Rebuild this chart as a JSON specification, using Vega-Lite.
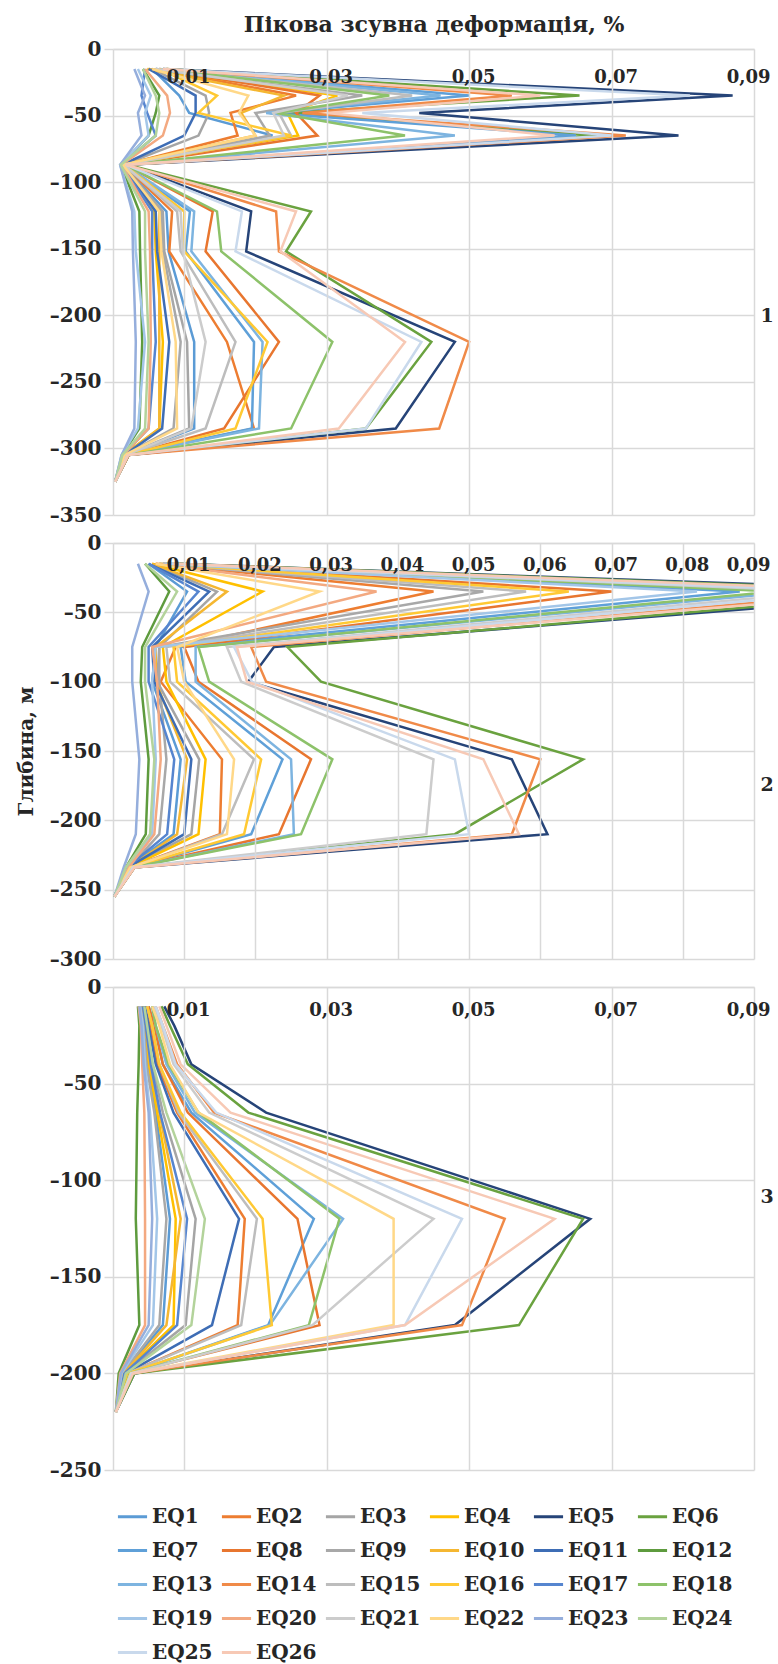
{
"$schema": "https://vega.github.io/schema/vega-lite/v6.json",
"background": "white",
"padding": {"left": 16, "top": 13, "right": 5, "bottom": 5},
"spacing": 28,
"bounds": "flush",
"datasets": {
"p1": [
{"s":"EQ1","d":-15,"v":0.0055},{"s":"EQ1","d":-35,"v":0.0093},{"s":"EQ1","d":-48,"v":0.0107},{"s":"EQ1","d":-65,"v":0.0224},{"s":"EQ1","d":-87,"v":0.0014},{"s":"EQ1","d":-122,"v":0.0075},{"s":"EQ1","d":-152,"v":0.0078},{"s":"EQ1","d":-220,"v":0.0114},{"s":"EQ1","d":-285,"v":0.0114},{"s":"EQ1","d":-305,"v":0.0017},{"s":"EQ1","d":-325,"v":0.0003},
{"s":"EQ2","d":-15,"v":0.006},{"s":"EQ2","d":-35,"v":0.0257},{"s":"EQ2","d":-48,"v":0.0165},{"s":"EQ2","d":-65,"v":0.0175},{"s":"EQ2","d":-87,"v":0.0015},{"s":"EQ2","d":-122,"v":0.0083},{"s":"EQ2","d":-152,"v":0.0079},{"s":"EQ2","d":-220,"v":0.016},{"s":"EQ2","d":-285,"v":0.0198},{"s":"EQ2","d":-305,"v":0.0018},{"s":"EQ2","d":-325,"v":0.0003},
{"s":"EQ3","d":-15,"v":0.0055},{"s":"EQ3","d":-35,"v":0.013},{"s":"EQ3","d":-48,"v":0.0135},{"s":"EQ3","d":-65,"v":0.012},{"s":"EQ3","d":-87,"v":0.0014},{"s":"EQ3","d":-122,"v":0.007},{"s":"EQ3","d":-152,"v":0.0072},{"s":"EQ3","d":-220,"v":0.0104},{"s":"EQ3","d":-285,"v":0.0107},{"s":"EQ3","d":-305,"v":0.0017},{"s":"EQ3","d":-325,"v":0.0003},
{"s":"EQ4","d":-15,"v":0.005},{"s":"EQ4","d":-35,"v":0.0315},{"s":"EQ4","d":-48,"v":0.0245},{"s":"EQ4","d":-65,"v":0.026},{"s":"EQ4","d":-87,"v":0.0013},{"s":"EQ4","d":-122,"v":0.0058},{"s":"EQ4","d":-152,"v":0.006},{"s":"EQ4","d":-220,"v":0.007},{"s":"EQ4","d":-285,"v":0.0065},{"s":"EQ4","d":-305,"v":0.0015},{"s":"EQ4","d":-325,"v":0.0003},
{"s":"EQ5","d":-15,"v":0.007},{"s":"EQ5","d":-35,"v":0.087},{"s":"EQ5","d":-48,"v":0.043},{"s":"EQ5","d":-65,"v":0.0794},{"s":"EQ5","d":-87,"v":0.002},{"s":"EQ5","d":-122,"v":0.0194},{"s":"EQ5","d":-152,"v":0.0187},{"s":"EQ5","d":-220,"v":0.048},{"s":"EQ5","d":-285,"v":0.0397},{"s":"EQ5","d":-305,"v":0.0022},{"s":"EQ5","d":-325,"v":0.0003},
{"s":"EQ6","d":-15,"v":0.0075},{"s":"EQ6","d":-35,"v":0.0655},{"s":"EQ6","d":-48,"v":0.024},{"s":"EQ6","d":-65,"v":0.068},{"s":"EQ6","d":-87,"v":0.002},{"s":"EQ6","d":-122,"v":0.0278},{"s":"EQ6","d":-152,"v":0.0243},{"s":"EQ6","d":-220,"v":0.0447},{"s":"EQ6","d":-285,"v":0.0355},{"s":"EQ6","d":-305,"v":0.0022},{"s":"EQ6","d":-325,"v":0.0003},
{"s":"EQ7","d":-15,"v":0.006},{"s":"EQ7","d":-35,"v":0.05},{"s":"EQ7","d":-48,"v":0.022},{"s":"EQ7","d":-65,"v":0.065},{"s":"EQ7","d":-87,"v":0.0015},{"s":"EQ7","d":-122,"v":0.0108},{"s":"EQ7","d":-152,"v":0.0102},{"s":"EQ7","d":-220,"v":0.0198},{"s":"EQ7","d":-285,"v":0.0195},{"s":"EQ7","d":-305,"v":0.0019},{"s":"EQ7","d":-325,"v":0.0003},
{"s":"EQ8","d":-15,"v":0.0065},{"s":"EQ8","d":-35,"v":0.029},{"s":"EQ8","d":-48,"v":0.0257},{"s":"EQ8","d":-65,"v":0.0287},{"s":"EQ8","d":-87,"v":0.0017},{"s":"EQ8","d":-122,"v":0.014},{"s":"EQ8","d":-152,"v":0.013},{"s":"EQ8","d":-220,"v":0.0233},{"s":"EQ8","d":-285,"v":0.0156},{"s":"EQ8","d":-305,"v":0.002},{"s":"EQ8","d":-325,"v":0.0003},
{"s":"EQ9","d":-15,"v":0.005},{"s":"EQ9","d":-35,"v":0.035},{"s":"EQ9","d":-48,"v":0.02},{"s":"EQ9","d":-65,"v":0.022},{"s":"EQ9","d":-87,"v":0.0013},{"s":"EQ9","d":-122,"v":0.0068},{"s":"EQ9","d":-152,"v":0.007},{"s":"EQ9","d":-220,"v":0.0095},{"s":"EQ9","d":-285,"v":0.0085},{"s":"EQ9","d":-305,"v":0.0016},{"s":"EQ9","d":-325,"v":0.0003},
{"s":"EQ10","d":-15,"v":0.0048},{"s":"EQ10","d":-35,"v":0.024},{"s":"EQ10","d":-48,"v":0.018},{"s":"EQ10","d":-65,"v":0.02},{"s":"EQ10","d":-87,"v":0.0012},{"s":"EQ10","d":-122,"v":0.0065},{"s":"EQ10","d":-152,"v":0.0065},{"s":"EQ10","d":-220,"v":0.0065},{"s":"EQ10","d":-285,"v":0.0065},{"s":"EQ10","d":-305,"v":0.0015},{"s":"EQ10","d":-325,"v":0.0003},
{"s":"EQ11","d":-15,"v":0.005},{"s":"EQ11","d":-35,"v":0.0116},{"s":"EQ11","d":-48,"v":0.0116},{"s":"EQ11","d":-65,"v":0.01},{"s":"EQ11","d":-87,"v":0.0013},{"s":"EQ11","d":-122,"v":0.006},{"s":"EQ11","d":-152,"v":0.0062},{"s":"EQ11","d":-220,"v":0.0079},{"s":"EQ11","d":-285,"v":0.0069},{"s":"EQ11","d":-305,"v":0.0016},{"s":"EQ11","d":-325,"v":0.0003},
{"s":"EQ12","d":-15,"v":0.0042},{"s":"EQ12","d":-35,"v":0.0065},{"s":"EQ12","d":-48,"v":0.006},{"s":"EQ12","d":-65,"v":0.005},{"s":"EQ12","d":-87,"v":0.0011},{"s":"EQ12","d":-122,"v":0.0037},{"s":"EQ12","d":-152,"v":0.0038},{"s":"EQ12","d":-220,"v":0.0041},{"s":"EQ12","d":-285,"v":0.0037},{"s":"EQ12","d":-305,"v":0.0013},{"s":"EQ12","d":-325,"v":0.0003},
{"s":"EQ13","d":-15,"v":0.0065},{"s":"EQ13","d":-35,"v":0.046},{"s":"EQ13","d":-48,"v":0.0215},{"s":"EQ13","d":-65,"v":0.048},{"s":"EQ13","d":-87,"v":0.0016},{"s":"EQ13","d":-122,"v":0.0114},{"s":"EQ13","d":-152,"v":0.011},{"s":"EQ13","d":-220,"v":0.021},{"s":"EQ13","d":-285,"v":0.0205},{"s":"EQ13","d":-305,"v":0.0019},{"s":"EQ13","d":-325,"v":0.0003},
{"s":"EQ14","d":-15,"v":0.0075},{"s":"EQ14","d":-35,"v":0.056},{"s":"EQ14","d":-48,"v":0.0266},{"s":"EQ14","d":-65,"v":0.072},{"s":"EQ14","d":-87,"v":0.002},{"s":"EQ14","d":-122,"v":0.0229},{"s":"EQ14","d":-152,"v":0.0233},{"s":"EQ14","d":-220,"v":0.05},{"s":"EQ14","d":-285,"v":0.0458},{"s":"EQ14","d":-305,"v":0.0022},{"s":"EQ14","d":-325,"v":0.0003},
{"s":"EQ15","d":-15,"v":0.006},{"s":"EQ15","d":-35,"v":0.042},{"s":"EQ15","d":-48,"v":0.0233},{"s":"EQ15","d":-65,"v":0.025},{"s":"EQ15","d":-87,"v":0.0015},{"s":"EQ15","d":-122,"v":0.009},{"s":"EQ15","d":-152,"v":0.0095},{"s":"EQ15","d":-220,"v":0.0172},{"s":"EQ15","d":-285,"v":0.013},{"s":"EQ15","d":-305,"v":0.0018},{"s":"EQ15","d":-325,"v":0.0003},
{"s":"EQ16","d":-15,"v":0.0065},{"s":"EQ16","d":-35,"v":0.0146},{"s":"EQ16","d":-48,"v":0.012},{"s":"EQ16","d":-65,"v":0.025},{"s":"EQ16","d":-87,"v":0.0016},{"s":"EQ16","d":-122,"v":0.01},{"s":"EQ16","d":-152,"v":0.01},{"s":"EQ16","d":-220,"v":0.0217},{"s":"EQ16","d":-285,"v":0.0172},{"s":"EQ16","d":-305,"v":0.0019},{"s":"EQ16","d":-325,"v":0.0003},
{"s":"EQ17","d":-15,"v":0.0045},{"s":"EQ17","d":-35,"v":0.004},{"s":"EQ17","d":-48,"v":0.0048},{"s":"EQ17","d":-65,"v":0.006},{"s":"EQ17","d":-87,"v":0.0012},{"s":"EQ17","d":-122,"v":0.0055},{"s":"EQ17","d":-152,"v":0.0055},{"s":"EQ17","d":-220,"v":0.006},{"s":"EQ17","d":-285,"v":0.005},{"s":"EQ17","d":-305,"v":0.0014},{"s":"EQ17","d":-325,"v":0.0003},
{"s":"EQ18","d":-15,"v":0.007},{"s":"EQ18","d":-35,"v":0.0388},{"s":"EQ18","d":-48,"v":0.023},{"s":"EQ18","d":-65,"v":0.041},{"s":"EQ18","d":-87,"v":0.0017},{"s":"EQ18","d":-122,"v":0.0146},{"s":"EQ18","d":-152,"v":0.0152},{"s":"EQ18","d":-220,"v":0.0308},{"s":"EQ18","d":-285,"v":0.025},{"s":"EQ18","d":-305,"v":0.002},{"s":"EQ18","d":-325,"v":0.0003},
{"s":"EQ19","d":-15,"v":0.0035},{"s":"EQ19","d":-35,"v":0.0053},{"s":"EQ19","d":-48,"v":0.0045},{"s":"EQ19","d":-65,"v":0.005},{"s":"EQ19","d":-87,"v":0.001},{"s":"EQ19","d":-122,"v":0.003},{"s":"EQ19","d":-152,"v":0.0032},{"s":"EQ19","d":-220,"v":0.0045},{"s":"EQ19","d":-285,"v":0.0035},{"s":"EQ19","d":-305,"v":0.0012},{"s":"EQ19","d":-325,"v":0.0003},
{"s":"EQ20","d":-15,"v":0.0045},{"s":"EQ20","d":-35,"v":0.0076},{"s":"EQ20","d":-48,"v":0.008},{"s":"EQ20","d":-65,"v":0.007},{"s":"EQ20","d":-87,"v":0.0012},{"s":"EQ20","d":-122,"v":0.005},{"s":"EQ20","d":-152,"v":0.0052},{"s":"EQ20","d":-220,"v":0.0053},{"s":"EQ20","d":-285,"v":0.005},{"s":"EQ20","d":-305,"v":0.0014},{"s":"EQ20","d":-325,"v":0.0003},
{"s":"EQ21","d":-15,"v":0.006},{"s":"EQ21","d":-35,"v":0.033},{"s":"EQ21","d":-48,"v":0.0225},{"s":"EQ21","d":-65,"v":0.024},{"s":"EQ21","d":-87,"v":0.0015},{"s":"EQ21","d":-122,"v":0.0095},{"s":"EQ21","d":-152,"v":0.0098},{"s":"EQ21","d":-220,"v":0.013},{"s":"EQ21","d":-285,"v":0.011},{"s":"EQ21","d":-305,"v":0.0018},{"s":"EQ21","d":-325,"v":0.0003},
{"s":"EQ22","d":-15,"v":0.0055},{"s":"EQ22","d":-35,"v":0.019},{"s":"EQ22","d":-48,"v":0.0177},{"s":"EQ22","d":-65,"v":0.02},{"s":"EQ22","d":-87,"v":0.0014},{"s":"EQ22","d":-122,"v":0.0065},{"s":"EQ22","d":-152,"v":0.0068},{"s":"EQ22","d":-220,"v":0.0088},{"s":"EQ22","d":-285,"v":0.009},{"s":"EQ22","d":-305,"v":0.0016},{"s":"EQ22","d":-325,"v":0.0003},
{"s":"EQ23","d":-15,"v":0.003},{"s":"EQ23","d":-35,"v":0.0045},{"s":"EQ23","d":-48,"v":0.0035},{"s":"EQ23","d":-65,"v":0.004},{"s":"EQ23","d":-87,"v":0.001},{"s":"EQ23","d":-122,"v":0.0027},{"s":"EQ23","d":-152,"v":0.0028},{"s":"EQ23","d":-220,"v":0.0032},{"s":"EQ23","d":-285,"v":0.003},{"s":"EQ23","d":-305,"v":0.0012},{"s":"EQ23","d":-325,"v":0.0003},
{"s":"EQ24","d":-15,"v":0.0042},{"s":"EQ24","d":-35,"v":0.006},{"s":"EQ24","d":-48,"v":0.0065},{"s":"EQ24","d":-65,"v":0.006},{"s":"EQ24","d":-87,"v":0.0011},{"s":"EQ24","d":-122,"v":0.0045},{"s":"EQ24","d":-152,"v":0.0045},{"s":"EQ24","d":-220,"v":0.005},{"s":"EQ24","d":-285,"v":0.0045},{"s":"EQ24","d":-305,"v":0.0013},{"s":"EQ24","d":-325,"v":0.0003},
{"s":"EQ25","d":-15,"v":0.007},{"s":"EQ25","d":-35,"v":0.081},{"s":"EQ25","d":-48,"v":0.035},{"s":"EQ25","d":-65,"v":0.07},{"s":"EQ25","d":-87,"v":0.0018},{"s":"EQ25","d":-122,"v":0.0181},{"s":"EQ25","d":-152,"v":0.0172},{"s":"EQ25","d":-220,"v":0.0433},{"s":"EQ25","d":-285,"v":0.0355},{"s":"EQ25","d":-305,"v":0.0021},{"s":"EQ25","d":-325,"v":0.0003},
{"s":"EQ26","d":-15,"v":0.007},{"s":"EQ26","d":-35,"v":0.06},{"s":"EQ26","d":-48,"v":0.03},{"s":"EQ26","d":-65,"v":0.062},{"s":"EQ26","d":-87,"v":0.0018},{"s":"EQ26","d":-122,"v":0.0257},{"s":"EQ26","d":-152,"v":0.0235},{"s":"EQ26","d":-220,"v":0.041},{"s":"EQ26","d":-285,"v":0.0317},{"s":"EQ26","d":-305,"v":0.0021},{"s":"EQ26","d":-325,"v":0.0003}
],
"p2": [
{"s":"EQ1","d":-15,"v":0.005},{"s":"EQ1","d":-35,"v":0.0104},{"s":"EQ1","d":-75,"v":0.006},{"s":"EQ1","d":-100,"v":0.0055},{"s":"EQ1","d":-156,"v":0.0095},{"s":"EQ1","d":-210,"v":0.0085},{"s":"EQ1","d":-234,"v":0.002},{"s":"EQ1","d":-255,"v":0.0002},
{"s":"EQ2","d":-15,"v":0.006},{"s":"EQ2","d":-35,"v":0.045},{"s":"EQ2","d":-75,"v":0.0088},{"s":"EQ2","d":-100,"v":0.0067},{"s":"EQ2","d":-156,"v":0.0153},{"s":"EQ2","d":-210,"v":0.015},{"s":"EQ2","d":-234,"v":0.0024},{"s":"EQ2","d":-255,"v":0.0002},
{"s":"EQ3","d":-15,"v":0.0055},{"s":"EQ3","d":-35,"v":0.0146},{"s":"EQ3","d":-75,"v":0.0065},{"s":"EQ3","d":-100,"v":0.0062},{"s":"EQ3","d":-156,"v":0.0121},{"s":"EQ3","d":-210,"v":0.011},{"s":"EQ3","d":-234,"v":0.0022},{"s":"EQ3","d":-255,"v":0.0002},
{"s":"EQ4","d":-15,"v":0.0055},{"s":"EQ4","d":-35,"v":0.021},{"s":"EQ4","d":-75,"v":0.007},{"s":"EQ4","d":-100,"v":0.0075},{"s":"EQ4","d":-156,"v":0.013},{"s":"EQ4","d":-210,"v":0.012},{"s":"EQ4","d":-234,"v":0.0023},{"s":"EQ4","d":-255,"v":0.0002},
{"s":"EQ5","d":-15,"v":0.009},{"s":"EQ5","d":-35,"v":0.12},{"s":"EQ5","d":-75,"v":0.0226},{"s":"EQ5","d":-100,"v":0.019},{"s":"EQ5","d":-156,"v":0.056},{"s":"EQ5","d":-210,"v":0.061},{"s":"EQ5","d":-234,"v":0.003},{"s":"EQ5","d":-255,"v":0.0002},
{"s":"EQ6","d":-15,"v":0.009},{"s":"EQ6","d":-35,"v":0.115},{"s":"EQ6","d":-75,"v":0.0245},{"s":"EQ6","d":-100,"v":0.0292},{"s":"EQ6","d":-156,"v":0.066},{"s":"EQ6","d":-210,"v":0.048},{"s":"EQ6","d":-234,"v":0.003},{"s":"EQ6","d":-255,"v":0.0002},
{"s":"EQ7","d":-15,"v":0.007},{"s":"EQ7","d":-35,"v":0.088},{"s":"EQ7","d":-75,"v":0.0095},{"s":"EQ7","d":-100,"v":0.0102},{"s":"EQ7","d":-156,"v":0.0238},{"s":"EQ7","d":-210,"v":0.0194},{"s":"EQ7","d":-234,"v":0.0026},{"s":"EQ7","d":-255,"v":0.0002},
{"s":"EQ8","d":-15,"v":0.007},{"s":"EQ8","d":-35,"v":0.07},{"s":"EQ8","d":-75,"v":0.01},{"s":"EQ8","d":-100,"v":0.012},{"s":"EQ8","d":-156,"v":0.0278},{"s":"EQ8","d":-210,"v":0.0233},{"s":"EQ8","d":-234,"v":0.0026},{"s":"EQ8","d":-255,"v":0.0002},
{"s":"EQ9","d":-15,"v":0.0065},{"s":"EQ9","d":-35,"v":0.052},{"s":"EQ9","d":-75,"v":0.0065},{"s":"EQ9","d":-100,"v":0.0065},{"s":"EQ9","d":-156,"v":0.0075},{"s":"EQ9","d":-210,"v":0.0065},{"s":"EQ9","d":-234,"v":0.0023},{"s":"EQ9","d":-255,"v":0.0002},
{"s":"EQ10","d":-15,"v":0.0055},{"s":"EQ10","d":-35,"v":0.016},{"s":"EQ10","d":-75,"v":0.006},{"s":"EQ10","d":-100,"v":0.006},{"s":"EQ10","d":-156,"v":0.0104},{"s":"EQ10","d":-210,"v":0.009},{"s":"EQ10","d":-234,"v":0.0022},{"s":"EQ10","d":-255,"v":0.0002},
{"s":"EQ11","d":-15,"v":0.005},{"s":"EQ11","d":-35,"v":0.0135},{"s":"EQ11","d":-75,"v":0.0055},{"s":"EQ11","d":-100,"v":0.0058},{"s":"EQ11","d":-156,"v":0.011},{"s":"EQ11","d":-210,"v":0.01},{"s":"EQ11","d":-234,"v":0.0021},{"s":"EQ11","d":-255,"v":0.0002},
{"s":"EQ12","d":-15,"v":0.0045},{"s":"EQ12","d":-35,"v":0.0079},{"s":"EQ12","d":-75,"v":0.0041},{"s":"EQ12","d":-100,"v":0.0039},{"s":"EQ12","d":-156,"v":0.005},{"s":"EQ12","d":-210,"v":0.0046},{"s":"EQ12","d":-234,"v":0.0018},{"s":"EQ12","d":-255,"v":0.0002},
{"s":"EQ13","d":-15,"v":0.0075},{"s":"EQ13","d":-35,"v":0.096},{"s":"EQ13","d":-75,"v":0.0116},{"s":"EQ13","d":-100,"v":0.0116},{"s":"EQ13","d":-156,"v":0.025},{"s":"EQ13","d":-210,"v":0.0254},{"s":"EQ13","d":-234,"v":0.0027},{"s":"EQ13","d":-255,"v":0.0002},
{"s":"EQ14","d":-15,"v":0.0085},{"s":"EQ14","d":-35,"v":0.108},{"s":"EQ14","d":-75,"v":0.0194},{"s":"EQ14","d":-100,"v":0.0215},{"s":"EQ14","d":-156,"v":0.06},{"s":"EQ14","d":-210,"v":0.056},{"s":"EQ14","d":-234,"v":0.003},{"s":"EQ14","d":-255,"v":0.0002},
{"s":"EQ15","d":-15,"v":0.0065},{"s":"EQ15","d":-35,"v":0.058},{"s":"EQ15","d":-75,"v":0.0075},{"s":"EQ15","d":-100,"v":0.008},{"s":"EQ15","d":-156,"v":0.0198},{"s":"EQ15","d":-210,"v":0.0153},{"s":"EQ15","d":-234,"v":0.0025},{"s":"EQ15","d":-255,"v":0.0002},
{"s":"EQ16","d":-15,"v":0.0065},{"s":"EQ16","d":-35,"v":0.064},{"s":"EQ16","d":-75,"v":0.0085},{"s":"EQ16","d":-100,"v":0.009},{"s":"EQ16","d":-156,"v":0.0208},{"s":"EQ16","d":-210,"v":0.0184},{"s":"EQ16","d":-234,"v":0.0025},{"s":"EQ16","d":-255,"v":0.0002},
{"s":"EQ17","d":-15,"v":0.005},{"s":"EQ17","d":-35,"v":0.012},{"s":"EQ17","d":-75,"v":0.005},{"s":"EQ17","d":-100,"v":0.005},{"s":"EQ17","d":-156,"v":0.0086},{"s":"EQ17","d":-210,"v":0.0076},{"s":"EQ17","d":-234,"v":0.002},{"s":"EQ17","d":-255,"v":0.0002},
{"s":"EQ18","d":-15,"v":0.0075},{"s":"EQ18","d":-35,"v":0.093},{"s":"EQ18","d":-75,"v":0.012},{"s":"EQ18","d":-100,"v":0.0135},{"s":"EQ18","d":-156,"v":0.0308},{"s":"EQ18","d":-210,"v":0.0264},{"s":"EQ18","d":-234,"v":0.0027},{"s":"EQ18","d":-255,"v":0.0002},
{"s":"EQ19","d":-15,"v":0.007},{"s":"EQ19","d":-35,"v":0.082},{"s":"EQ19","d":-75,"v":0.006},{"s":"EQ19","d":-100,"v":0.0055},{"s":"EQ19","d":-156,"v":0.006},{"s":"EQ19","d":-210,"v":0.0055},{"s":"EQ19","d":-234,"v":0.0022},{"s":"EQ19","d":-255,"v":0.0002},
{"s":"EQ20","d":-15,"v":0.006},{"s":"EQ20","d":-35,"v":0.037},{"s":"EQ20","d":-75,"v":0.0055},{"s":"EQ20","d":-100,"v":0.0062},{"s":"EQ20","d":-156,"v":0.0067},{"s":"EQ20","d":-210,"v":0.0058},{"s":"EQ20","d":-234,"v":0.0022},{"s":"EQ20","d":-255,"v":0.0002},
{"s":"EQ21","d":-15,"v":0.008},{"s":"EQ21","d":-35,"v":0.1},{"s":"EQ21","d":-75,"v":0.016},{"s":"EQ21","d":-100,"v":0.018},{"s":"EQ21","d":-156,"v":0.045},{"s":"EQ21","d":-210,"v":0.044},{"s":"EQ21","d":-234,"v":0.0028},{"s":"EQ21","d":-255,"v":0.0002},
{"s":"EQ22","d":-15,"v":0.006},{"s":"EQ22","d":-35,"v":0.029},{"s":"EQ22","d":-75,"v":0.009},{"s":"EQ22","d":-100,"v":0.01},{"s":"EQ22","d":-156,"v":0.017},{"s":"EQ22","d":-210,"v":0.016},{"s":"EQ22","d":-234,"v":0.0024},{"s":"EQ22","d":-255,"v":0.0002},
{"s":"EQ23","d":-15,"v":0.0035},{"s":"EQ23","d":-35,"v":0.005},{"s":"EQ23","d":-75,"v":0.0027},{"s":"EQ23","d":-100,"v":0.0027},{"s":"EQ23","d":-156,"v":0.0037},{"s":"EQ23","d":-210,"v":0.0032},{"s":"EQ23","d":-234,"v":0.0015},{"s":"EQ23","d":-255,"v":0.0002},
{"s":"EQ24","d":-15,"v":0.0045},{"s":"EQ24","d":-35,"v":0.009},{"s":"EQ24","d":-75,"v":0.0045},{"s":"EQ24","d":-100,"v":0.0045},{"s":"EQ24","d":-156,"v":0.0058},{"s":"EQ24","d":-210,"v":0.0052},{"s":"EQ24","d":-234,"v":0.0018},{"s":"EQ24","d":-255,"v":0.0002},
{"s":"EQ25","d":-15,"v":0.008},{"s":"EQ25","d":-35,"v":0.104},{"s":"EQ25","d":-75,"v":0.017},{"s":"EQ25","d":-100,"v":0.0195},{"s":"EQ25","d":-156,"v":0.048},{"s":"EQ25","d":-210,"v":0.05},{"s":"EQ25","d":-234,"v":0.0028},{"s":"EQ25","d":-255,"v":0.0002},
{"s":"EQ26","d":-15,"v":0.0085},{"s":"EQ26","d":-35,"v":0.112},{"s":"EQ26","d":-75,"v":0.0174},{"s":"EQ26","d":-100,"v":0.0188},{"s":"EQ26","d":-156,"v":0.052},{"s":"EQ26","d":-210,"v":0.057},{"s":"EQ26","d":-234,"v":0.003},{"s":"EQ26","d":-255,"v":0.0002}
],
"p3": [
{"s":"EQ1","d":-10,"v":0.004},{"s":"EQ1","d":-20,"v":0.0044},{"s":"EQ1","d":-40,"v":0.0049},{"s":"EQ1","d":-65,"v":0.006},{"s":"EQ1","d":-120,"v":0.008},{"s":"EQ1","d":-175,"v":0.007},{"s":"EQ1","d":-200,"v":0.0014},{"s":"EQ1","d":-220,"v":0.0004},
{"s":"EQ2","d":-10,"v":0.0046},{"s":"EQ2","d":-20,"v":0.0052},{"s":"EQ2","d":-40,"v":0.0062},{"s":"EQ2","d":-65,"v":0.009},{"s":"EQ2","d":-120,"v":0.0185},{"s":"EQ2","d":-175,"v":0.0175},{"s":"EQ2","d":-200,"v":0.002},{"s":"EQ2","d":-220,"v":0.0004},
{"s":"EQ3","d":-10,"v":0.0043},{"s":"EQ3","d":-20,"v":0.0047},{"s":"EQ3","d":-40,"v":0.0055},{"s":"EQ3","d":-65,"v":0.007},{"s":"EQ3","d":-120,"v":0.0116},{"s":"EQ3","d":-175,"v":0.0102},{"s":"EQ3","d":-200,"v":0.0016},{"s":"EQ3","d":-220,"v":0.0004},
{"s":"EQ4","d":-10,"v":0.0041},{"s":"EQ4","d":-20,"v":0.0045},{"s":"EQ4","d":-40,"v":0.005},{"s":"EQ4","d":-65,"v":0.0062},{"s":"EQ4","d":-120,"v":0.0088},{"s":"EQ4","d":-175,"v":0.0085},{"s":"EQ4","d":-200,"v":0.0015},{"s":"EQ4","d":-220,"v":0.0004},
{"s":"EQ5","d":-10,"v":0.0072},{"s":"EQ5","d":-20,"v":0.0086},{"s":"EQ5","d":-40,"v":0.011},{"s":"EQ5","d":-65,"v":0.0215},{"s":"EQ5","d":-120,"v":0.067},{"s":"EQ5","d":-175,"v":0.048},{"s":"EQ5","d":-200,"v":0.003},{"s":"EQ5","d":-220,"v":0.0004},
{"s":"EQ6","d":-10,"v":0.0068},{"s":"EQ6","d":-20,"v":0.008},{"s":"EQ6","d":-40,"v":0.0105},{"s":"EQ6","d":-65,"v":0.019},{"s":"EQ6","d":-120,"v":0.066},{"s":"EQ6","d":-175,"v":0.057},{"s":"EQ6","d":-200,"v":0.003},{"s":"EQ6","d":-220,"v":0.0004},
{"s":"EQ7","d":-10,"v":0.005},{"s":"EQ7","d":-20,"v":0.0058},{"s":"EQ7","d":-40,"v":0.007},{"s":"EQ7","d":-65,"v":0.011},{"s":"EQ7","d":-120,"v":0.0282},{"s":"EQ7","d":-175,"v":0.0218},{"s":"EQ7","d":-200,"v":0.0022},{"s":"EQ7","d":-220,"v":0.0004},
{"s":"EQ8","d":-10,"v":0.005},{"s":"EQ8","d":-20,"v":0.0058},{"s":"EQ8","d":-40,"v":0.007},{"s":"EQ8","d":-65,"v":0.0105},{"s":"EQ8","d":-120,"v":0.0259},{"s":"EQ8","d":-175,"v":0.029},{"s":"EQ8","d":-200,"v":0.0022},{"s":"EQ8","d":-220,"v":0.0004},
{"s":"EQ9","d":-10,"v":0.0039},{"s":"EQ9","d":-20,"v":0.0043},{"s":"EQ9","d":-40,"v":0.0047},{"s":"EQ9","d":-65,"v":0.0058},{"s":"EQ9","d":-120,"v":0.0075},{"s":"EQ9","d":-175,"v":0.0065},{"s":"EQ9","d":-200,"v":0.0013},{"s":"EQ9","d":-220,"v":0.0004},
{"s":"EQ10","d":-10,"v":0.0042},{"s":"EQ10","d":-20,"v":0.0046},{"s":"EQ10","d":-40,"v":0.0052},{"s":"EQ10","d":-65,"v":0.0065},{"s":"EQ10","d":-120,"v":0.0095},{"s":"EQ10","d":-175,"v":0.0075},{"s":"EQ10","d":-200,"v":0.0015},{"s":"EQ10","d":-220,"v":0.0004},
{"s":"EQ11","d":-10,"v":0.0045},{"s":"EQ11","d":-20,"v":0.005},{"s":"EQ11","d":-40,"v":0.006},{"s":"EQ11","d":-65,"v":0.0085},{"s":"EQ11","d":-120,"v":0.0177},{"s":"EQ11","d":-175,"v":0.0139},{"s":"EQ11","d":-200,"v":0.0018},{"s":"EQ11","d":-220,"v":0.0004},
{"s":"EQ12","d":-10,"v":0.0035},{"s":"EQ12","d":-20,"v":0.0037},{"s":"EQ12","d":-40,"v":0.0036},{"s":"EQ12","d":-65,"v":0.0034},{"s":"EQ12","d":-120,"v":0.0032},{"s":"EQ12","d":-175,"v":0.0037},{"s":"EQ12","d":-200,"v":0.0008},{"s":"EQ12","d":-220,"v":0.0004},
{"s":"EQ13","d":-10,"v":0.0055},{"s":"EQ13","d":-20,"v":0.006},{"s":"EQ13","d":-40,"v":0.0075},{"s":"EQ13","d":-65,"v":0.0115},{"s":"EQ13","d":-120,"v":0.0323},{"s":"EQ13","d":-175,"v":0.022},{"s":"EQ13","d":-200,"v":0.0024},{"s":"EQ13","d":-220,"v":0.0004},
{"s":"EQ14","d":-10,"v":0.006},{"s":"EQ14","d":-20,"v":0.007},{"s":"EQ14","d":-40,"v":0.009},{"s":"EQ14","d":-65,"v":0.0142},{"s":"EQ14","d":-120,"v":0.055},{"s":"EQ14","d":-175,"v":0.049},{"s":"EQ14","d":-200,"v":0.0027},{"s":"EQ14","d":-220,"v":0.0004},
{"s":"EQ15","d":-10,"v":0.0048},{"s":"EQ15","d":-20,"v":0.0055},{"s":"EQ15","d":-40,"v":0.0065},{"s":"EQ15","d":-65,"v":0.0092},{"s":"EQ15","d":-120,"v":0.0202},{"s":"EQ15","d":-175,"v":0.018},{"s":"EQ15","d":-200,"v":0.002},{"s":"EQ15","d":-220,"v":0.0004},
{"s":"EQ16","d":-10,"v":0.0048},{"s":"EQ16","d":-20,"v":0.0055},{"s":"EQ16","d":-40,"v":0.0065},{"s":"EQ16","d":-65,"v":0.0095},{"s":"EQ16","d":-120,"v":0.021},{"s":"EQ16","d":-175,"v":0.0223},{"s":"EQ16","d":-200,"v":0.002},{"s":"EQ16","d":-220,"v":0.0004},
{"s":"EQ17","d":-10,"v":0.0042},{"s":"EQ17","d":-20,"v":0.0046},{"s":"EQ17","d":-40,"v":0.0053},{"s":"EQ17","d":-65,"v":0.0066},{"s":"EQ17","d":-120,"v":0.0104},{"s":"EQ17","d":-175,"v":0.009},{"s":"EQ17","d":-200,"v":0.0016},{"s":"EQ17","d":-220,"v":0.0004},
{"s":"EQ18","d":-10,"v":0.0055},{"s":"EQ18","d":-20,"v":0.006},{"s":"EQ18","d":-40,"v":0.0078},{"s":"EQ18","d":-65,"v":0.012},{"s":"EQ18","d":-120,"v":0.0318},{"s":"EQ18","d":-175,"v":0.0275},{"s":"EQ18","d":-200,"v":0.0024},{"s":"EQ18","d":-220,"v":0.0004},
{"s":"EQ19","d":-10,"v":0.0038},{"s":"EQ19","d":-20,"v":0.0042},{"s":"EQ19","d":-40,"v":0.0045},{"s":"EQ19","d":-65,"v":0.0052},{"s":"EQ19","d":-120,"v":0.0062},{"s":"EQ19","d":-175,"v":0.0056},{"s":"EQ19","d":-200,"v":0.0012},{"s":"EQ19","d":-220,"v":0.0004},
{"s":"EQ20","d":-10,"v":0.0036},{"s":"EQ20","d":-20,"v":0.0039},{"s":"EQ20","d":-40,"v":0.0041},{"s":"EQ20","d":-65,"v":0.0044},{"s":"EQ20","d":-120,"v":0.0045},{"s":"EQ20","d":-175,"v":0.0045},{"s":"EQ20","d":-200,"v":0.001},{"s":"EQ20","d":-220,"v":0.0004},
{"s":"EQ21","d":-10,"v":0.0058},{"s":"EQ21","d":-20,"v":0.0068},{"s":"EQ21","d":-40,"v":0.0085},{"s":"EQ21","d":-65,"v":0.0135},{"s":"EQ21","d":-120,"v":0.045},{"s":"EQ21","d":-175,"v":0.028},{"s":"EQ21","d":-200,"v":0.0025},{"s":"EQ21","d":-220,"v":0.0004},
{"s":"EQ22","d":-10,"v":0.0055},{"s":"EQ22","d":-20,"v":0.0065},{"s":"EQ22","d":-40,"v":0.008},{"s":"EQ22","d":-65,"v":0.012},{"s":"EQ22","d":-120,"v":0.0394},{"s":"EQ22","d":-175,"v":0.0394},{"s":"EQ22","d":-200,"v":0.0025},{"s":"EQ22","d":-220,"v":0.0004},
{"s":"EQ23","d":-10,"v":0.0037},{"s":"EQ23","d":-20,"v":0.004},{"s":"EQ23","d":-40,"v":0.0043},{"s":"EQ23","d":-65,"v":0.005},{"s":"EQ23","d":-120,"v":0.0055},{"s":"EQ23","d":-175,"v":0.005},{"s":"EQ23","d":-200,"v":0.0011},{"s":"EQ23","d":-220,"v":0.0004},
{"s":"EQ24","d":-10,"v":0.0044},{"s":"EQ24","d":-20,"v":0.0048},{"s":"EQ24","d":-40,"v":0.0056},{"s":"EQ24","d":-65,"v":0.0075},{"s":"EQ24","d":-120,"v":0.0129},{"s":"EQ24","d":-175,"v":0.011},{"s":"EQ24","d":-200,"v":0.0018},{"s":"EQ24","d":-220,"v":0.0004},
{"s":"EQ25","d":-10,"v":0.006},{"s":"EQ25","d":-20,"v":0.007},{"s":"EQ25","d":-40,"v":0.0088},{"s":"EQ25","d":-65,"v":0.0145},{"s":"EQ25","d":-120,"v":0.049},{"s":"EQ25","d":-175,"v":0.041},{"s":"EQ25","d":-200,"v":0.0026},{"s":"EQ25","d":-220,"v":0.0004},
{"s":"EQ26","d":-10,"v":0.0065},{"s":"EQ26","d":-20,"v":0.0075},{"s":"EQ26","d":-40,"v":0.0095},{"s":"EQ26","d":-65,"v":0.0165},{"s":"EQ26","d":-120,"v":0.062},{"s":"EQ26","d":-175,"v":0.041},{"s":"EQ26","d":-200,"v":0.0028},{"s":"EQ26","d":-220,"v":0.0004}
]
},
"vconcat": [
{
"width": 641, "height": 466,
"data": {"name": "p1"},
"title": {"text": "1", "orient": "right", "angle": 0, "anchor": "middle", "dy": 25, "offset": -16, "fontSize": 19, "font": "DejaVu Serif", "fontWeight": "bold", "color": "#262626"},
"mark": {"type": "line", "strokeWidth": 2.5, "clip": true},
"encoding": {
"x": {"field": "v", "type": "quantitative", "scale": {"domain": [0, 0.09], "nice": false, "zero": false},
 "axis": {"orient": "top", "zindex": 1, "values": [0.01, 0.03, 0.05, 0.07, 0.09], "title": "Пікова зсувна деформація, %", "titleFontSize": 22, "titlePadding": 13, "labelPadding": -28}},
"y": {"field": "d", "type": "quantitative", "scale": {"domain": [-350, 0], "nice": false, "zero": false},
 "axis": {"values": [-350, -300, -250, -200, -150, -100, -50, 0], "title": null}},
"color": {"field": "s", "type": "nominal",
 "scale": {"domain": ["EQ1","EQ2","EQ3","EQ4","EQ5","EQ6","EQ7","EQ8","EQ9","EQ10","EQ11","EQ12","EQ13","EQ14","EQ15","EQ16","EQ17","EQ18","EQ19","EQ20","EQ21","EQ22","EQ23","EQ24","EQ25","EQ26"],
  "range": ["#5B9BD5","#ED7D31","#A5A5A5","#FFC000","#264478","#6AA23F","#5FA0D8","#E8762F","#A8A8A8","#F5B731","#3E6DB5","#5E9B3E","#7DB4E0","#F08A48","#BDBDBD","#FFC933","#5685CF","#8DC26A","#A3C6E8","#F3A981","#CCCCCC","#FFD888","#95AEDC","#B3D39B","#C9D9EC","#F7C9B5"]},
 "legend": {"title": null}},
"order": {"field": "d", "type": "quantitative", "sort": "descending"}
}
},
{
"width": 641, "height": 416,
"data": {"name": "p2"},
"title": {"text": "2", "orient": "right", "angle": 0, "anchor": "middle", "dy": 25, "offset": -16, "fontSize": 19, "font": "DejaVu Serif", "fontWeight": "bold", "color": "#262626"},
"mark": {"type": "line", "strokeWidth": 2.5, "clip": true},
"encoding": {
"x": {"field": "v", "type": "quantitative", "scale": {"domain": [0, 0.09], "nice": false, "zero": false},
 "axis": {"orient": "top", "zindex": 1, "values": [0.01, 0.02, 0.03, 0.04, 0.05, 0.06, 0.07, 0.08, 0.09], "title": null, "labelPadding": -22}},
"y": {"field": "d", "type": "quantitative", "scale": {"domain": [-300, 0], "nice": false, "zero": false},
 "axis": {"values": [-300, -250, -200, -150, -100, -50, 0], "title": "Глибина, м", "titleFontSize": 20, "titlePadding": 13}},
"color": {"field": "s", "type": "nominal", "legend": {"title": null}},
"order": {"field": "d", "type": "quantitative", "sort": "descending"}
}
},
{
"width": 641, "height": 483,
"data": {"name": "p3"},
"title": {"text": "3", "orient": "right", "angle": 0, "anchor": "middle", "dy": -41, "offset": -16, "fontSize": 19, "font": "DejaVu Serif", "fontWeight": "bold", "color": "#262626"},
"mark": {"type": "line", "strokeWidth": 2.5, "clip": true},
"encoding": {
"x": {"field": "v", "type": "quantitative", "scale": {"domain": [0, 0.09], "nice": false, "zero": false},
 "axis": {"orient": "top", "zindex": 1, "values": [0.01, 0.03, 0.05, 0.07, 0.09], "title": null, "labelPadding": -23}},
"y": {"field": "d", "type": "quantitative", "scale": {"domain": [-250, 0], "nice": false, "zero": false},
 "axis": {"values": [-250, -200, -150, -100, -50, 0], "title": null}},
"color": {"field": "s", "type": "nominal", "legend": {"title": null}},
"order": {"field": "d", "type": "quantitative", "sort": "descending"}
}
}
],
"config": {
"view": {"stroke": null},
"axis": {"labelFont": "DejaVu Serif", "labelFontWeight": "bold", "labelColor": "#262626", "titleFont": "DejaVu Serif", "titleFontWeight": "bold", "titleColor": "#262626", "gridColor": "#D9D9D9", "gridWidth": 1.5, "domainColor": "#D9D9D9", "domainWidth": 1.5, "tickColor": "#D9D9D9", "tickWidth": 1.5},
"axisY": {"labelFontSize": 20, "tickSize": 9, "labelPadding": 3, "labelFlush": false, "labelOverlap": false, "labelExpr": "datum.value < 0 ? '–' + format(-datum.value, 'd') : format(datum.value, 'd')"},
"axisX": {"labelFontSize": 18, "ticks": false, "labelBaseline": "middle", "labelOffset": 4, "labelFlush": 1, "labelFlushOffset": 12, "labelOverlap": false, "labelExpr": "replace(format(datum.value, '.2f'), '.', ',')"},
"legend": {"orient": "bottom", "direction": "horizontal", "columns": 6, "symbolType": "stroke", "symbolStrokeWidth": 3, "symbolSize": 850, "labelFont": "DejaVu Serif", "labelFontWeight": "bold", "labelFontSize": 20, "labelColor": "#262626", "labelOffset": 3, "rowPadding": 7, "columnPadding": 2, "gridAlign": "all", "padding": 3, "offset": 17}
}
}
